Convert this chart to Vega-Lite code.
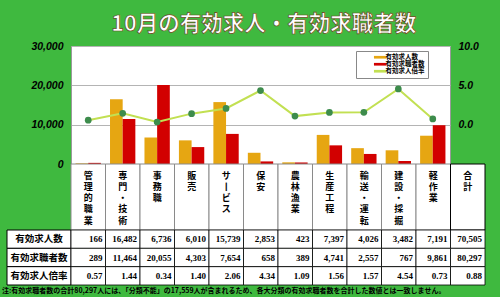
{
  "$schema": "https://vega.github.io/schema/vega-lite/v6.json",
  "background": "#3fb93f",
  "padding": {"left": 2, "right": 15, "top": 14, "bottom": 0},
  "title": {
    "text": "10月の有効求人・有効求職者数",
    "font": "Noto Sans CJK JP",
    "fontSize": 21.5,
    "fontWeight": "bold",
    "color": "white",
    "anchor": "middle",
    "offset": 5,
    "dx": 20,
    "encode": {"title": {"update": {"stroke": {"value": "#6b4a1a"}, "strokeWidth": {"value": 0.7}}}}
  },
  "datasets": {
    "main": [
      {"職業": "管理的職業", "有効求人数": 166, "有効求職者数": 289, "有効求人倍率": 0.57},
      {"職業": "専門・技術", "有効求人数": 16482, "有効求職者数": 11464, "有効求人倍率": 1.44},
      {"職業": "事務職", "有効求人数": 6736, "有効求職者数": 20055, "有効求人倍率": 0.34},
      {"職業": "販売", "有効求人数": 6010, "有効求職者数": 4303, "有効求人倍率": 1.40},
      {"職業": "サービス", "有効求人数": 15739, "有効求職者数": 7654, "有効求人倍率": 2.06},
      {"職業": "保安", "有効求人数": 2853, "有効求職者数": 658, "有効求人倍率": 4.34},
      {"職業": "農林漁業", "有効求人数": 423, "有効求職者数": 389, "有効求人倍率": 1.09},
      {"職業": "生産工程", "有効求人数": 7397, "有効求職者数": 4741, "有効求人倍率": 1.56},
      {"職業": "輸送・運転", "有効求人数": 4026, "有効求職者数": 2557, "有効求人倍率": 1.57},
      {"職業": "建設・採掘", "有効求人数": 3482, "有効求職者数": 767, "有効求人倍率": 4.54},
      {"職業": "軽作業", "有効求人数": 7191, "有効求職者数": 9861, "有効求人倍率": 0.73},
      {"職業": "合計", "有効求人数": 70505, "有効求職者数": 80297, "有効求人倍率": 0.88}
    ]
  },
  "columns": 2,
  "spacing": 0,
  "bounds": "flush",
  "align": "each",
  "concat": [
    {"width": 64, "height": 118, "data": {"values": [{"a": 1}]}, "mark": {"type": "point", "opacity": 0}},
    {
      "width": 379,
      "height": 118,
      "data": {"name": "main"},
      "transform": [{"filter": "datum['職業'] !== '合計'"}],
      "view": {"fill": "white", "stroke": "#9a9a9a"},
      "layer": [
        {
          "transform": [{"fold": ["有効求人数", "有効求職者数"], "as": ["系列", "値"]}],
          "mark": {"type": "bar"},
          "encoding": {
            "x": {"field": "職業", "type": "nominal", "sort": null, "scale": {"paddingInner": 0, "paddingOuter": 0}, "axis": null},
            "xOffset": {"field": "系列", "type": "nominal", "sort": ["有効求人数", "有効求職者数"], "scale": {"paddingInner": 0, "paddingOuter": 0.36}},
            "y": {
              "field": "値", "type": "quantitative",
              "scale": {"domain": [0, 30000]},
              "axis": {"values": [0, 10000, 20000, 30000], "format": ",d", "title": null, "grid": true, "gridColor": "#b4b4b4", "ticks": false, "domain": true, "domainColor": "#9a9a9a", "labelFont": "Liberation Sans", "labelFontSize": 10.5, "labelFontWeight": "bold", "labelFontStyle": "italic", "labelColor": "black", "labelPadding": 8}
            },
            "color": {
              "field": "系列", "type": "nominal",
              "scale": {"domain": ["有効求人数", "有効求職者数", "有効求人倍率"], "range": ["#e6a612", "#d20000", "#c2e052"]},
              "legend": {
                "orient": "none", "legendX": 349, "legendY": 5, "title": null,
                "fillColor": "white", "strokeColor": "#888888", "padding": 3,
                "labelFontSize": 6.5, "labelFont": "Noto Sans CJK JP", "labelFontWeight": "bold", "labelColor": "black",
                "symbolType": "M-2.1,-0.45H2.1V0.45H-2.1Z", "symbolSize": 36, "symbolStrokeWidth": 0,
                "rowPadding": 0, "symbolOffset": 18, "labelOffset": 2, "labelLimit": 100,
                "encode": {"symbols": {"update": {"fill": {"scale": "color", "field": "value"}, "opacity": {"value": 1}}}}
              }
            }
          }
        },
        {
          "encoding": {
            "x": {"field": "職業", "type": "nominal", "sort": null},
            "y": {
              "field": "有効求人倍率", "type": "quantitative",
              "scale": {"domain": [-5, 10]},
              "axis": {"orient": "right", "values": [0, 5, 10], "format": ".1f", "title": null, "grid": false, "ticks": false, "domain": false, "labelFont": "Liberation Sans", "labelFontSize": 10.5, "labelFontWeight": "bold", "labelFontStyle": "italic", "labelColor": "black", "labelPadding": 8, "labelAlign": "left"}
            }
          },
          "layer": [
            {"mark": {"type": "line", "strokeWidth": 2}, "encoding": {"color": {"datum": "有効求人倍率"}}},
            {"mark": {"type": "point", "filled": true, "size": 45, "color": "#3d8c4c", "opacity": 1, "strokeWidth": 0}}
          ]
        }
      ],
      "resolve": {"scale": {"y": "independent"}}
    },
    {"width": 64, "height": 66, "data": {"values": [{"a": 1}]}, "mark": {"type": "point", "opacity": 0}},
    {
      "width": 414,
      "height": 66,
      "data": {"name": "main"},
      "mark": {"type": "rect", "fill": "white", "strokeWidth": 1},
      "encoding": {
        "x": {
          "field": "職業", "type": "nominal", "sort": null,
          "scale": {"paddingInner": 0, "paddingOuter": 0},
          "axis": {"orient": "top", "title": null, "domain": false, "ticks": false, "tickSize": 0, "labelAngle": 0, "labelPadding": -7, "labelBaseline": "top", "labelExpr": "split(replace(datum.value, 'ー', '丨'), '')", "labelFont": "Noto Sans CJK JP", "labelFontSize": 9, "labelFontWeight": "bold", "labelColor": "black", "labelLineHeight": 11.3, "labelOverlap": false, "labelLimit": 0, "zindex": 1}
        },
        "stroke": {"condition": {"test": "datum['職業'] === '合計'", "value": "black"}, "value": "#8a8a8a"},
        "strokeDash": {"condition": {"test": "datum['職業'] === '合計'", "value": [1, 0]}, "value": [3, 2]}
      }
    },
    {
      "width": 64,
      "height": 55,
      "data": {"values": [{"項目": "有効求人数"}, {"項目": "有効求職者数"}, {"項目": "有効求人倍率"}]},
      "encoding": {"y": {"field": "項目", "type": "nominal", "sort": null, "scale": {"paddingInner": 0, "paddingOuter": 0}, "axis": null}},
      "layer": [
        {"mark": {"type": "rect", "fill": "white", "stroke": "black", "strokeWidth": 1}},
        {"mark": {"type": "text", "font": "Noto Sans CJK JP", "fontSize": 9.5, "fontWeight": "bold", "color": "black"}, "encoding": {"text": {"field": "項目"}}}
      ]
    },
    {
      "width": 414,
      "height": 55,
      "data": {"name": "main"},
      "encoding": {
        "x": {"field": "職業", "type": "nominal", "sort": null, "scale": {"paddingInner": 0, "paddingOuter": 0}, "axis": null}
      },
      "layer": [
        {
          "transform": [{"fold": ["有効求人数", "有効求職者数", "有効求人倍率"], "as": ["項目", "値"]}],
          "mark": {"type": "rect", "fill": "white", "stroke": "black", "strokeWidth": 0.8},
          "encoding": {"y": {"field": "項目", "type": "nominal", "sort": ["有効求人数", "有効求職者数", "有効求人倍率"], "scale": {"domain": ["有効求人数", "有効求職者数", "有効求人倍率"], "paddingInner": 0, "paddingOuter": 0}, "axis": null}}
        },
        {
          "mark": {"type": "text", "align": "right", "dx": -3, "font": "Liberation Sans Narrow", "fontSize": 9, "fontWeight": "bold", "color": "black"},
          "encoding": {"x": {"field": "職業", "type": "nominal", "sort": null, "bandPosition": 1}, "y": {"datum": "有効求人数", "type": "nominal"}, "text": {"field": "有効求人数", "format": ","}}
        },
        {
          "mark": {"type": "text", "align": "right", "dx": -3, "font": "Liberation Sans Narrow", "fontSize": 9, "fontWeight": "bold", "color": "black"},
          "encoding": {"x": {"field": "職業", "type": "nominal", "sort": null, "bandPosition": 1}, "y": {"datum": "有効求職者数", "type": "nominal"}, "text": {"field": "有効求職者数", "format": ","}}
        },
        {
          "mark": {"type": "text", "align": "right", "dx": -3, "font": "Liberation Sans Narrow", "fontSize": 9, "fontWeight": "bold", "color": "black"},
          "encoding": {"x": {"field": "職業", "type": "nominal", "sort": null, "bandPosition": 1}, "y": {"datum": "有効求人倍率", "type": "nominal"}, "text": {"field": "有効求人倍率", "format": ".2f"}}
        }
      ]
    },
    {
      "width": 64,
      "height": 12,
      "data": {"values": [{"注": "注:有効求職者数の合計80,297人には、「分類不能」の17,559人が含まれるため、各大分類の有効求職者数を合計した数値とは一致しません。"}]},
      "mark": {"type": "text", "align": "left", "dx": -5, "fontSize": 7, "fontWeight": "bold", "color": "black", "font": "Noto Sans CJK JP", "limit": 0},
      "encoding": {"x": {"datum": 0, "type": "quantitative", "scale": {"domain": [0, 1]}, "axis": null}, "text": {"field": "注"}}
    }
  ],
  "config": {"view": {"stroke": null}, "font": "Noto Sans CJK JP"}
}
